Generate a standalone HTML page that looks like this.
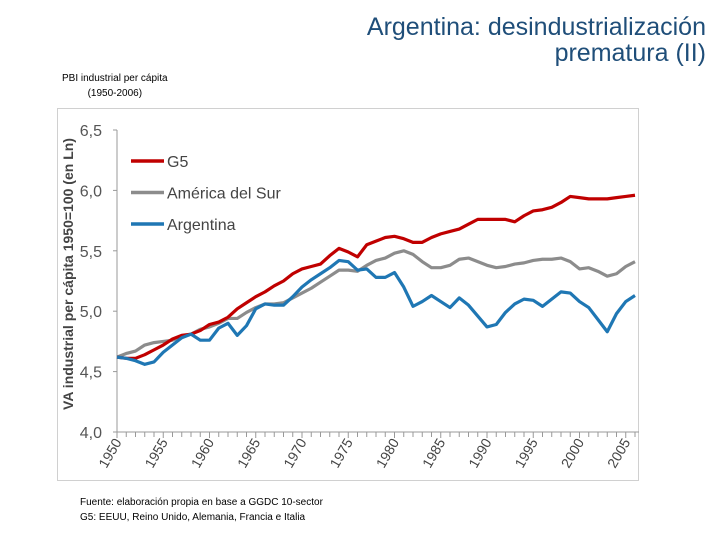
<!DOCTYPE html>
<html><head><meta charset="utf-8"><style>
body{margin:0;width:720px;height:540px;background:#fff;font-family:"Liberation Sans",sans-serif;overflow:hidden;position:relative}
.t{position:absolute;white-space:nowrap}
</style></head><body>
<div class="t" style="right:14px;top:14px;text-align:right;color:#1f4e79;font-size:25px;line-height:26px">Argentina: desindustrialización<br>prematura (II)</div>
<div class="t" style="left:62px;top:71px;font-size:10px;line-height:15px;text-align:center;color:#000">PBI industrial per cápita<br>(1950-2006)</div>
<div class="t" style="left:80px;top:495px;font-size:10px;line-height:15px;color:#000">Fuente: elaboración propia en base a GGDC 10-sector<br>G5: EEUU, Reino Unido, Alemania, Francia e Italia</div>
<svg id="chart" width="720" height="540" style="position:absolute;left:0;top:0">
<rect x="57.5" y="108.5" width="581" height="372" fill="none" stroke="#d0d0d0"/>
<g id="axes"></g><g id="series"></g><g id="legend"></g>
</svg>
<script>
const years=[];for(let y=1950;y<=2006;y++)years.push(y);
const g5=[4.62,4.61,4.61,4.64,4.68,4.72,4.77,4.80,4.81,4.84,4.89,4.91,4.95,5.02,5.07,5.12,5.16,5.21,5.25,5.31,5.35,5.37,5.39,5.46,5.52,5.49,5.45,5.55,5.58,5.61,5.62,5.60,5.57,5.57,5.61,5.64,5.66,5.68,5.72,5.76,5.76,5.76,5.76,5.74,5.79,5.83,5.84,5.86,5.90,5.95,5.94,5.93,5.93,5.93,5.94,5.95,5.96];
const sur=[4.62,4.65,4.67,4.72,4.74,4.75,4.76,4.79,4.81,4.85,4.87,4.90,4.94,4.94,4.99,5.03,5.06,5.06,5.07,5.11,5.15,5.19,5.24,5.29,5.34,5.34,5.33,5.38,5.42,5.44,5.48,5.50,5.47,5.41,5.36,5.36,5.38,5.43,5.44,5.41,5.38,5.36,5.37,5.39,5.40,5.42,5.43,5.43,5.44,5.41,5.35,5.36,5.33,5.29,5.31,5.37,5.41];
const arg=[4.62,4.61,4.59,4.56,4.58,4.66,4.72,4.78,4.81,4.76,4.76,4.86,4.90,4.80,4.88,5.02,5.06,5.05,5.05,5.12,5.20,5.26,5.31,5.36,5.42,5.41,5.34,5.35,5.28,5.28,5.32,5.20,5.04,5.08,5.13,5.08,5.03,5.11,5.05,4.96,4.87,4.89,4.99,5.06,5.10,5.09,5.04,5.10,5.16,5.15,5.08,5.03,4.93,4.83,4.98,5.08,5.13];
const yTicks=[4.0,4.5,5.0,5.5,6.0,6.5];
const xTickYears=[1950,1955,1960,1965,1970,1975,1980,1985,1990,1995,2000,2005];
const seriesNames=["G5","América del Sur","Argentina"];
const NS="http://www.w3.org/2000/svg";
const X0=117,X1=635,Y0=432,Y1=130;
const xs=y=>X0+(y-1950)*(X1-X0)/56;
const ys=v=>Y0-(v-4)*(Y0-Y1)/2.5;
function mk(p,t,a){const e=document.createElementNS(NS,t);for(const k in a)e.setAttribute(k,a[k]);p.appendChild(e);return e;}
const ax=document.getElementById('axes');
const yl=mk(ax,'line',{x1:X0,y1:Y1,x2:X0,y2:Y0,stroke:'#999'});


const xl=mk(ax,'line',{x1:X0,y1:Y0,x2:X1+4,y2:Y0,stroke:'#999'});


yTicks.forEach(v=>{
 mk(ax,'line',{x1:X0-4,y1:ys(v),x2:X0,y2:ys(v),stroke:'#999'});
 const t=mk(ax,'text',{x:X0-15,y:ys(v)+6,'text-anchor':'end','font-size':16,fill:'#555'});
 t.textContent=v.toFixed(1).replace('.',',');
 
 
});
years.forEach(y=>{mk(ax,'line',{x1:xs(y),y1:Y0,x2:xs(y),y2:Y0+(y%5==0?6:5),stroke:'#999'});});
xTickYears.forEach(y=>{
 const t=mk(ax,'text',{x:0,y:0,'text-anchor':'end','font-size':14,fill:'#444',transform:`translate(${xs(y)+5},${Y0+10}) rotate(-60)`});
 t.textContent=y;
 
 
});
const yt=mk(ax,'text',{x:0,y:0,'text-anchor':'middle','font-size':14,'font-weight':'bold',fill:'#444',transform:'translate(73,274) rotate(-90)'});
yt.textContent='VA industrial per cápita 1950=100 (en Ln)';


const sg=document.getElementById('series');
const data=[[sur,'#8c8c8c','series-america-del-sur'],[g5,'#c00000','series-g5'],[arg,'#1f77b4','series-argentina']];
data.forEach(([d,c,n])=>{
 const p=mk(sg,'polyline',{points:d.map((v,i)=>xs(years[i])+','+ys(v)).join(' '),fill:'none',stroke:c,'stroke-width':3.2,'stroke-linejoin':'round'});
 
 
});
const lg=document.getElementById('legend');
const lc=['#c00000','#8c8c8c','#1f77b4'];
seriesNames.forEach((s,i)=>{
 const y=161+i*31.5;
 const l=mk(lg,'line',{x1:131,y1:y,x2:164,y2:y,stroke:lc[i],'stroke-width':3.5});
 
 
 const t=mk(lg,'text',{x:167,y:y+6,'font-size':16,fill:'#444'});
 t.textContent=s;
 
 
});
</script>
</body></html>
